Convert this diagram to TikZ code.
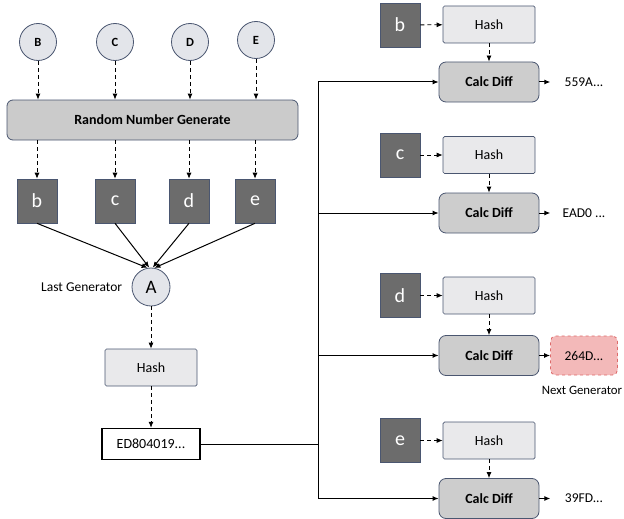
\documentclass[tikz,border=0pt]{standalone}
\usepackage{fontspec}
\setmainfont{Carlito}
\usepackage{tikz}
\usetikzlibrary{arrows.meta,positioning}
\definecolor{rim}{HTML}{4A5670}
\definecolor{seedgray}{HTML}{E3E5EA}
\definecolor{rnggray}{HTML}{CBCBCB}
\definecolor{keygray}{HTML}{6C6C6C}
\definecolor{hashgray}{HTML}{E9E9EB}
\definecolor{diffgray}{HTML}{CDCDCD}
\definecolor{nextfill}{HTML}{F3B9B9}
\definecolor{nextrim}{HTML}{DD6A6A}
\tikzset{
	seed/.style={circle, draw=rim, fill=seedgray, line width=0.8pt, minimum size=37pt, inner sep=0pt,
		font=\bfseries\fontsize{12.5}{14}\selectfont},
	rng/.style={draw=rim, fill=rnggray, line width=0.8pt, rounded corners=6pt, minimum width=291pt,
		minimum height=40pt, font=\bfseries\fontsize{14}{16}\selectfont},
	keybox/.style={draw=rim, fill=keygray, line width=0.6pt, minimum width=40pt, minimum height=44pt,
		inner sep=0pt, text=white, font=\fontsize{20}{22}\selectfont},
	hashbox/.style={draw=rim, fill=hashgray, line width=0.7pt, rounded corners=1.5pt, minimum width=92pt,
		minimum height=37pt, font=\fontsize{14}{16}\selectfont},
	diffbox/.style={draw=rim, fill=diffgray, line width=0.8pt, rounded corners=7pt, minimum width=100pt,
		minimum height=40pt, font=\bfseries\fontsize{14}{16}\selectfont},
	digest/.style={draw=black, fill=white, line width=1.5pt, minimum width=98pt, minimum height=31pt,
		font=\fontsize{14}{16}\selectfont},
	result/.style={minimum width=67pt, minimum height=39pt, inner sep=0pt, font=\fontsize{13.5}{15}\selectfont},
	caption/.style={font=\fontsize{13.5}{15}\selectfont},
	dasharrow/.style={draw=black, line width=0.8pt, dash pattern=on 4pt off 3pt,
		-{Latex[length=6pt,width=5pt]}},
	flow/.style={draw=black, line width=1pt, -{Latex[length=6pt,width=5pt]}},
}
\begin{document}
\begin{tikzpicture}[x=1pt, y=-1pt]
	\useasboundingbox (0,0) rectangle (624,519);
	% seeds and generator
	\node[seed] (B) at (38,42) {B};
	\node[seed] (C) at (115,42) {C};
	\node[seed] (D) at (190,42) {D};
	\node[seed] (E) at (256,40) {E};
	\node[rng] (rng) at (152.5,120) {Random Number Generate};
	\node[keybox] (kb) at (37,201) {b};
	\node[keybox] (kc) at (115,201) {c};
	\node[keybox] (kd) at (189,201) {d};
	\node[keybox] (ke) at (255,201) {e};
	\draw[dasharrow] (B) -- (B |- rng.north);
	\draw[dasharrow] (C) -- (C |- rng.north);
	\draw[dasharrow] (D) -- (D |- rng.north);
	\draw[dasharrow] (E) -- (E |- rng.north);
	\draw[dasharrow] (kb |- rng.south) -- (kb);
	\draw[dasharrow] (kc |- rng.south) -- (kc);
	\draw[dasharrow] (kd |- rng.south) -- (kd);
	\draw[dasharrow] (ke |- rng.south) -- (ke);
	% last generator
	\node[seed, minimum size=38pt, font=\fontsize{19}{21}\selectfont] (A) at (151,287) {A};
	\node[caption, left=6pt of A] (lastlbl) {Last Generator};
	\draw[flow] (kb.south) -- (A.100);
	\draw[flow] (kc.south) -- (A.95);
	\draw[flow] (kd.south) -- (A.85);
	\draw[flow] (ke.south) -- (A.80);
	\node[hashbox] (hash) at (151,367.5) {Hash};
	\node[digest] (ed) at (151,444) {ED804019...};
	\draw[dasharrow] (A) -- (hash);
	\draw[dasharrow] (hash) -- (ed);
	\coordinate (bus) at (318,444);
	\draw[line width=1pt] (ed) -- (bus);
	% candidates
	\node[keybox] (rb) at (400,25) {b};
	\node[hashbox] (hb) at (489,24.5) {Hash};
	\node[diffbox] (db) at (489,82) {Calc Diff};
	\node[result] (ob) at (584,82) {559A...};
	\node[keybox] (rc) at (400,155) {c};
	\node[hashbox] (hc) at (489,155) {Hash};
	\node[diffbox] (dc) at (489,213) {Calc Diff};
	\node[result] (oc) at (584,213) {EAD0 ...};
	\node[keybox] (rd) at (400,295.5) {d};
	\node[hashbox] (hd) at (489,295.5) {Hash};
	\node[diffbox] (dd) at (489,355.5) {Calc Diff};
	\node[result, draw=nextrim, fill=nextfill, dashed, rounded corners=5pt, line width=0.8pt] (od) at (584,355.5) {264D...};
	\node[caption, font=\fontsize{12.8}{14}\selectfont, below=7pt of od, xshift=-2pt] (nextlbl) {Next Generator};
	\node[keybox] (re) at (400,440.5) {e};
	\node[hashbox] (he) at (489,440.5) {Hash};
	\node[diffbox] (de) at (489,498.5) {Calc Diff};
	\node[result] (oe) at (584,498.5) {39FD...};
	\draw[dasharrow] (rb) -- (hb);
	\draw[dasharrow] (hb) -- (db);
	\draw[flow] (db) -- (ob);
	\draw[dasharrow] (rc) -- (hc);
	\draw[dasharrow] (hc) -- (dc);
	\draw[flow] (dc) -- (oc);
	\draw[dasharrow] (rd) -- (hd);
	\draw[dasharrow] (hd) -- (dd);
	\draw[flow] (dd) -- (od);
	\draw[dasharrow] (re) -- (he);
	\draw[dasharrow] (he) -- (de);
	\draw[flow] (de) -- (oe);
	% bus to every diff
	\draw[flow] (bus) |- (db);
	\draw[flow] (bus) |- (dc);
	\draw[flow] (bus) |- (dd);
	\draw[flow] (bus) |- (de);
\end{tikzpicture}
\end{document}
